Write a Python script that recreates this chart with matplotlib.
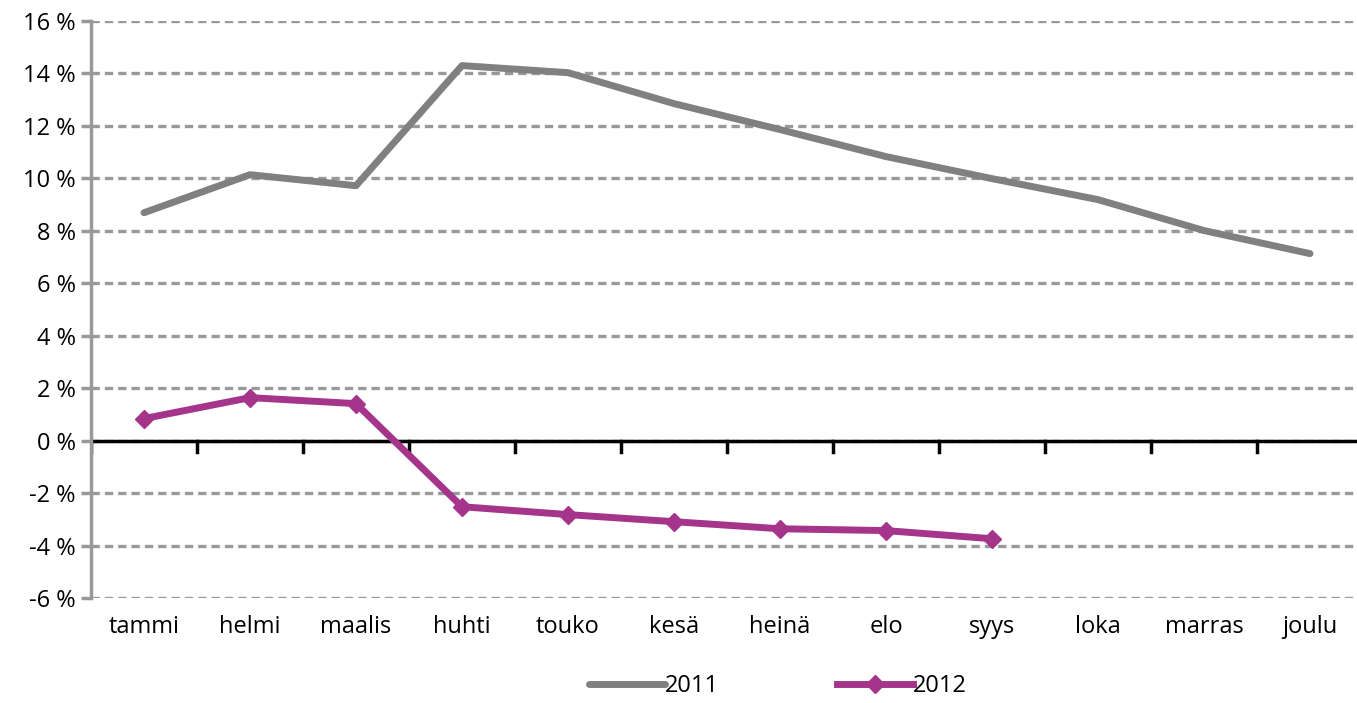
import numpy as np
import matplotlib.pyplot as plt
from matplotlib.ticker import FuncFormatter

# Données
kuukaudet = ['tammi', 'helmi', 'maalis', 'huhti', 'touko', 'kesä',
             'heinä', 'elo', 'syys', 'loka', 'marras', 'joulu']
v2011 = [8.69, 10.14, 9.72, 14.3, 14.03, 12.85, 11.86, 10.83, 9.99, 9.19, 8.01, 7.13]
v2012 = [0.84, 1.64, 1.41, -2.52, -2.82, -3.09, -3.36, -3.43, -3.74]

Harmaa = '#808080'
Violetti = '#A5358A'

plt.rcParams['font.family'] = ['Open Sans', 'DejaVu Sans']

fig = plt.figure(figsize=(13.57, 7.03), dpi=100)
ax = fig.add_axes([91/1357, 1 - 598/703, 1272/1357, 577/703])

x = np.arange(len(kuukaudet))
ax.plot(x, v2011, color=Harmaa, linewidth=5, solid_capstyle='round', label='2011')
ax.plot(x[:len(v2012)], v2012, color=Violetti, linewidth=5, marker='D',
        markersize=9, label='2012')

ax.set_ylim(-6, 16)
ax.set_xlim(-0.5, 11.5)
ax.set_yticks(np.arange(-6, 17, 2))
ax.yaxis.set_major_formatter(FuncFormatter(lambda v, p: f'{v:.0f} %'))
ax.yaxis.grid(True, linestyle=(0, (2.5, 1.5)), color='#999999', linewidth=2.4)
ax.set_axisbelow(True)

for s in ['top', 'right', 'bottom']:
    ax.spines[s].set_visible(False)
ax.spines['left'].set_color('#999999')
ax.spines['left'].set_linewidth(2.5)

# Nollaviiva ja väliviivat
ax.axhline(0, color='black', linewidth=2.5, zorder=1.5)
for b in np.arange(-0.5, 11.6, 1):
    ax.plot([b, b], [0, -0.45], color='black', linewidth=2.5, zorder=1.5)

ax.set_xticks(x)
ax.set_xticklabels(kuukaudet)
ax.tick_params(axis='x', length=0, labelsize=17, pad=12)
ax.tick_params(axis='y', length=7, width=2.5, color='#999999', labelsize=17, pad=4)

ax.legend(loc='upper center', bbox_to_anchor=(0.54, -0.095), ncol=2, frameon=False,
          fontsize=17, handlelength=3.2, handletextpad=0, columnspacing=5)

plt.savefig('out.png', dpi=100)
